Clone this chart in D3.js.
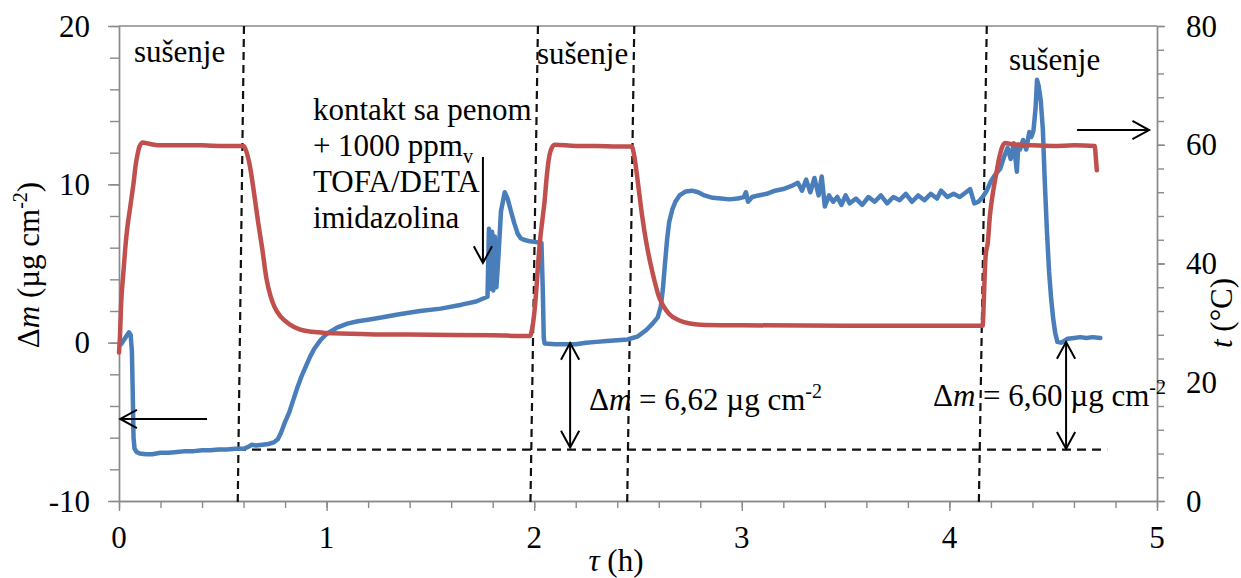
<!DOCTYPE html>
<html><head><meta charset="utf-8">
<script src="https://cdn.jsdelivr.net/npm/d3@7"></script>
<style>
body{margin:0;background:#fff}
svg{display:block}
</style>
</head><body>
<svg id="c" width="1241" height="578"></svg>
<script>
// ---- data (tau in h, Δm in µg cm-2, t in °C) ----
const massSeries = [
 [0.01,-0.1],[0.025,0.2],[0.04,0.5],[0.048,0.65],[0.056,0.5],[0.062,-0.5],[0.066,-3],[0.07,-6],[0.075,-6.7],
 [0.085,-6.9],[0.1,-7.0],[0.13,-7.05],[0.16,-7.05],[0.2,-6.95],[0.24,-6.95],[0.28,-6.9],[0.32,-6.85],[0.36,-6.85],
 [0.4,-6.8],[0.44,-6.8],[0.48,-6.75],[0.52,-6.75],[0.56,-6.7],[0.6,-6.7],[0.62,-6.6],[0.64,-6.45],[0.66,-6.5],
 [0.69,-6.45],[0.72,-6.4],[0.745,-6.3],[0.765,-6.1],[0.78,-5.7],[0.8,-5.0],[0.82,-4.4],[0.84,-3.6],[0.86,-2.8],
 [0.88,-2.1],[0.9,-1.5],[0.92,-0.9],[0.94,-0.4],[0.97,0.15],[1.0,0.55],[1.05,0.95],[1.1,1.2],[1.15,1.35],[1.2,1.45],
 [1.27,1.6],[1.35,1.8],[1.45,2.0],[1.55,2.15],[1.65,2.4],[1.72,2.6],[1.775,2.9],[1.782,7.2],[1.79,3.4],[1.797,7.0],
 [1.803,3.3],[1.81,6.7],[1.818,3.5],[1.828,5.5],[1.84,8.3],[1.858,9.5],[1.872,9.1],[1.888,8.3],[1.905,7.5],
 [1.92,6.9],[1.935,6.6],[1.95,6.5],[1.98,6.4],[2.01,6.35],[2.035,6.3],[2.042,3.0],[2.046,0.3],[2.05,-0.05],
 [2.1,-0.1],[2.15,-0.1],[2.2,-0.1],[2.25,0.0],[2.3,0.05],[2.35,0.1],[2.4,0.15],[2.45,0.2],[2.5,0.4],[2.54,0.8],
 [2.57,1.2],[2.595,1.6],[2.61,2.3],[2.62,3.4],[2.63,5.0],[2.64,6.5],[2.65,7.6],[2.665,8.4],[2.68,8.9],[2.7,9.3],
 [2.73,9.55],[2.76,9.6],[2.79,9.5],[2.82,9.3],[2.86,9.15],[2.9,9.1],[2.94,9.05],[2.98,9.1],[3.01,9.2],[3.02,9.5],
 [3.03,8.9],[3.05,9.2],[3.08,9.3],[3.12,9.4],[3.16,9.6],[3.2,9.7],[3.24,9.9],[3.27,10.1],[3.29,9.6],[3.31,10.3],
 [3.33,9.5],[3.35,10.4],[3.37,9.3],[3.385,10.5],[3.4,8.6],[3.42,9.3],[3.44,8.9],[3.46,9.2],[3.48,8.7],[3.5,9.3],
 [3.52,8.8],[3.55,9.1],[3.58,8.7],[3.61,9.2],[3.64,8.9],[3.67,9.3],[3.7,8.8],[3.73,9.2],[3.76,9.0],[3.79,9.4],
 [3.82,8.9],[3.85,9.3],[3.88,9.0],[3.91,9.4],[3.94,9.1],[3.96,9.6],[3.99,9.2],[4.02,9.4],[4.05,9.2],[4.08,9.5],
 [4.1,9.7],[4.12,8.8],[4.14,8.9],[4.16,9.2],[4.18,9.6],[4.2,10.2],[4.22,10.6],[4.245,11.0],[4.265,11.8],[4.28,12.3],
 [4.295,11.6],[4.31,12.6],[4.325,10.8],[4.332,12.5],[4.34,12.2],[4.355,12.8],[4.37,12.2],[4.385,13.3],[4.395,13.0],
 [4.405,13.4],[4.415,14.8],[4.422,16.6],[4.43,16.2],[4.44,15.3],[4.45,13.5],[4.46,10.0],[4.47,7.0],[4.48,4.5],
 [4.49,2.8],[4.5,1.5],[4.51,0.6],[4.52,0.05],[4.54,0.0],[4.57,0.25],[4.6,0.3],[4.63,0.35],[4.66,0.3],[4.69,0.35],[4.727,0.3]
];
const tempSeries = [
 [0.0,25.0],[0.005,28],[0.01,33],[0.02,38],[0.03,42.5],[0.04,46],[0.05,48.5],[0.06,51],[0.07,53.5],[0.08,56.5],
 [0.09,58.5],[0.1,59.8],[0.115,60.4],[0.14,60.2],[0.2,59.9],[0.3,59.9],[0.4,59.9],[0.5,59.8],[0.6,59.8],[0.61,59.2],
 [0.63,56.5],[0.65,52],[0.67,47],[0.69,42.5],[0.71,37.5],[0.73,34.5],[0.75,32.6],[0.78,31],[0.82,29.8],[0.87,28.9],
 [0.93,28.5],[1.0,28.3],[1.2,28.1],[1.5,28.0],[1.8,27.9],[1.98,27.8],[1.99,29],[2.0,31.5],[2.01,35.5],[2.02,40.5],
 [2.03,44.5],[2.04,47.5],[2.05,50.5],[2.06,54.5],[2.07,57.5],[2.085,59.5],[2.1,60.0],[2.2,59.8],[2.3,59.8],[2.4,59.7],
 [2.47,59.7],[2.48,58.5],[2.5,53.5],[2.52,48],[2.54,43.5],[2.56,40],[2.58,37],[2.6,34.5],[2.62,33],[2.65,31.5],
 [2.7,30.4],[2.75,29.9],[2.8,29.7],[3.0,29.6],[3.5,29.5],[4.0,29.5],[4.16,29.5],[4.165,33],[4.17,38],[4.175,41.5],
 [4.185,43.5],[4.195,48],[4.21,52],[4.225,55],[4.24,57.8],[4.255,59.7],[4.27,60.3],[4.3,60.1],[4.4,59.9],[4.5,59.8],
 [4.6,59.9],[4.7,59.8],[4.705,58],[4.71,55.7]
];
const xTickLabels = [0,1,2,3,4,5];
const leftTickLabels = [-10,0,10,20];
const rightTickLabels = [0,20,40,60,80];

// ---- layout ----
const FONT = "'Liberation Serif', Tinos, 'Times New Roman', 'DejaVu Serif', serif";
const svg = d3.select("#c").attr("font-family", FONT);
svg.append("rect").attr("width",1241).attr("height",578).attr("fill","#fff");
const x = d3.scaleLinear().domain([0,5]).range([119,1157]);
const yL = d3.scaleLinear().domain([-10,20]).range([501,26]);
const yR = d3.scaleLinear().domain([0,80]).range([501,26]);
const axisColor = "#8a8a8a";
const FS = 31;

function styleAx(g){
  g.selectAll("path,line").attr("stroke",axisColor).attr("stroke-width",1.4);
  g.selectAll("text").remove();
}
function T(sel){ return sel.attr("font-family",FONT).attr("fill","#000"); }
// top border
svg.append("line").attr("x1",x(0)).attr("x2",x(5)).attr("y1",yL(20)).attr("y2",yL(20))
  .attr("stroke",axisColor).attr("stroke-width",1.4);

// x axis
svg.append("g").attr("transform",`translate(0,${yL(-10)})`)
  .call(d3.axisBottom(x).tickValues(d3.range(0,5.001,0.2)).tickSize(7).tickSizeOuter(0)).call(styleAx);
svg.append("g").attr("transform",`translate(0,${yL(-10)})`)
  .call(d3.axisBottom(x).tickValues(xTickLabels).tickSize(10).tickSizeOuter(0)).call(styleAx);
svg.append("g").selectAll("text").data(xTickLabels).join("text").call(T)
  .attr("x",d=>x(d)).attr("y",548).attr("text-anchor","middle").attr("font-size",FS).text(d=>d);

// left axis
svg.append("g").attr("transform",`translate(${x(0)},0)`)
  .call(d3.axisLeft(yL).tickValues(d3.range(-10,20.001,2)).tickSize(9).tickSizeOuter(0)).call(styleAx);
svg.append("g").attr("transform",`translate(${x(0)},0)`)
  .call(d3.axisLeft(yL).tickValues(leftTickLabels).tickSize(11).tickSizeOuter(0)).call(styleAx);
svg.append("g").selectAll("text").data(leftTickLabels).join("text").call(T)
  .attr("x",90).attr("y",d=>yL(d)).attr("dy","0.34em").attr("text-anchor","end").attr("font-size",FS).text(d=>d);

// right axis
svg.append("g").attr("transform",`translate(${x(5)},0)`)
  .call(d3.axisRight(yR).tickValues(d3.range(0,80.001,4)).tickSize(7).tickSizeOuter(0)).call(styleAx);
svg.append("g").attr("transform",`translate(${x(5)},0)`)
  .call(d3.axisRight(yR).tickValues(rightTickLabels).tickSize(8).tickSizeOuter(0)).call(styleAx);
svg.append("g").selectAll("text").data(rightTickLabels).join("text").call(T)
  .attr("x",1186).attr("y",d=>yR(d)).attr("dy","0.34em").attr("text-anchor","start").attr("font-size",FS).text(d=>d);

// axis titles
const lt = svg.append("text").call(T).attr("transform","translate(39,265) rotate(-90)")
  .attr("text-anchor","middle").attr("font-size",FS);
lt.append("tspan").text("Δ");
lt.append("tspan").attr("font-style","italic").text("m");
lt.append("tspan").text(" (µg cm");
lt.append("tspan").attr("font-size",20).attr("dy",-12).text("-2");
lt.append("tspan").attr("dy",12).text(")");

const rt = svg.append("text").call(T).attr("transform","translate(1232,313) rotate(-90)")
  .attr("text-anchor","middle").attr("font-size",FS);
rt.append("tspan").attr("font-style","italic").text("t");
rt.append("tspan").text(" (°C)");

const bt = svg.append("text").call(T).attr("x",616).attr("y",571).attr("text-anchor","middle").attr("font-size",FS);
bt.append("tspan").attr("font-style","italic").text("τ");
bt.append("tspan").text(" (h)");

// ---- dashed guide lines ----
const dash = svg.append("g").attr("stroke","#111").attr("stroke-width",2.2).attr("fill","none");
[[0.602,0.572],[2.018,1.982],[2.482,2.448],[4.18,4.142]].forEach(([t0,t1])=>{
  dash.append("line").attr("x1",x(t0)).attr("y1",yL(20)).attr("x2",x(t1)).attr("y2",yL(-10)+1)
    .attr("stroke-dasharray","8,5");
});
dash.append("line").attr("x1",x(0.424)).attr("x2",x(4.76)).attr("y1",yL(-6.76)).attr("y2",yL(-6.76))
  .attr("stroke-dasharray","9,6");

// ---- series ----
const lineL = d3.line().x(d=>x(d[0])).y(d=>yL(d[1])).curve(d3.curveLinear);
const lineR = d3.line().x(d=>x(d[0])).y(d=>yR(d[1])).curve(d3.curveMonotoneX);
svg.append("path").datum(massSeries).attr("d",lineL).attr("fill","none")
  .attr("stroke","#4a7ebb").attr("stroke-width",4.5).attr("stroke-linejoin","round").attr("stroke-linecap","round");
svg.append("path").datum(tempSeries).attr("d",lineR).attr("fill","none")
  .attr("stroke","#c0504d").attr("stroke-width",4.5).attr("stroke-linejoin","round").attr("stroke-linecap","round");

// ---- arrows ----
const arr = svg.append("g").attr("stroke","#000").attr("stroke-width",2).attr("fill","none");
function head(tx,ty,ang){
  const L=19, a=0.5;
  const p1=[tx-L*Math.cos(ang-a), ty-L*Math.sin(ang-a)];
  const p2=[tx-L*Math.cos(ang+a), ty-L*Math.sin(ang+a)];
  arr.append("path").attr("d",`M${p1}L${tx},${ty}L${p2}`);
}
function arrow(x1,y1,x2,y2,both){
  arr.append("line").attr("x1",x1).attr("y1",y1).attr("x2",x2).attr("y2",y2);
  head(x2,y2,Math.atan2(y2-y1,x2-x1));
  if(both) head(x1,y1,Math.atan2(y1-y2,x1-x2));
}
arrow(x(0.424),yL(-4.82),x(0.006),yL(-4.82));
arrow(x(4.615),yL(13.43),x(4.962),yL(13.43));
arrow(x(1.753),yL(11.73),x(1.753),yL(5.03));
arrow(x(2.173),yL(-0.02),x(2.173),yL(-6.62),true);
arrow(x(4.562),yL(0.04),x(4.562),yL(-6.7),true);

// ---- annotations ----
function txt(tx,ty){ return svg.append("text").call(T).attr("x",x(tx)).attr("y",yL(ty)).attr("font-size",FS); }
txt(0.072,17.73).text("sušenje");
txt(2.013,17.6).text("sušenje");
txt(4.287,17.23).text("sušenje");
txt(0.934,14.07).text("kontakt sa penom");
const pp = txt(0.934,11.79);
pp.append("tspan").text("+ 1000  ppm");
pp.append("tspan").attr("font-size",20).attr("dy",7).text("v");
txt(0.934,9.52).text("TOFA/DETA");
txt(0.934,7.25).text("imidazolina");
function dmText(tx,ty,val){
  const t = txt(tx,ty);
  t.append("tspan").text("Δ");
  t.append("tspan").attr("font-style","italic").text("m");
  t.append("tspan").text(" = " + val + "  µg cm");
  t.append("tspan").attr("font-size",20).attr("dy",-12).text("-2");
}
dmText(2.264,-4.25,"6,62");
dmText(3.921,-4.0,"6,60");
</script>
</body></html>
